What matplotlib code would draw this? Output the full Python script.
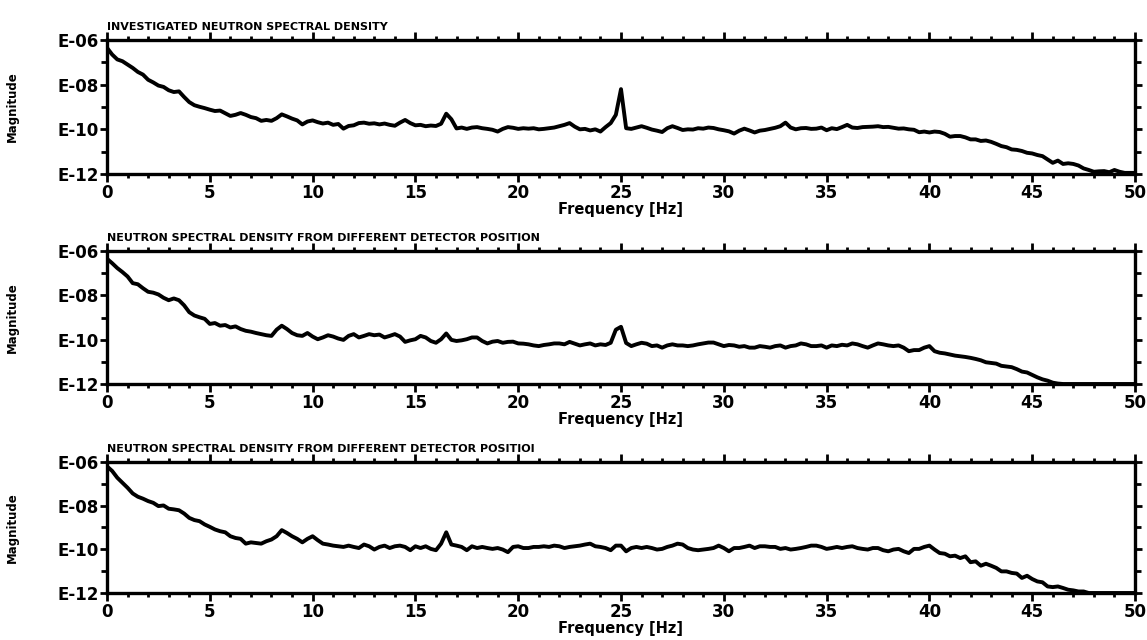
import numpy as np
import matplotlib
matplotlib.use("Agg")
import matplotlib.pyplot as plt
from matplotlib.ticker import FixedLocator, MultipleLocator
from matplotlib import font_manager

# frequency grid (Hz), 0.25 Hz spacing
freq = np.arange(0, 50.001, 0.25)

# log10 magnitude of spectral density (rows = 5 Hz)
s1_log = [
    -6.35, -6.65, -6.87, -6.95, -7.10, -7.25, -7.43, -7.55, -7.78, -7.90, -8.04, -8.10, -8.25, -8.33, -8.30, -8.55, -8.78, -8.92, -8.99, -9.05,
    -9.12, -9.18, -9.16, -9.28, -9.40, -9.35, -9.27, -9.35, -9.45, -9.50, -9.62, -9.58, -9.62, -9.50, -9.33, -9.42, -9.52, -9.60, -9.78, -9.65,
    -9.60, -9.68, -9.74, -9.70, -9.80, -9.76, -9.97, -9.85, -9.82, -9.72, -9.70, -9.75, -9.73, -9.78, -9.74, -9.80, -9.84, -9.70, -9.58, -9.72,
    -9.82, -9.80, -9.86, -9.83, -9.85, -9.75, -9.30, -9.55, -9.96, -9.92, -9.98, -9.92, -9.90, -9.95, -9.98, -10.02, -10.10, -9.98, -9.90, -9.93,
    -9.98, -9.95, -9.97, -9.95, -10.00, -9.98, -9.95, -9.92, -9.86, -9.80, -9.72, -9.88, -10.00, -9.98, -10.05, -10.00, -10.10, -9.90, -9.72, -9.35,
    -8.20, -9.95, -9.98, -9.92, -9.86, -9.93, -10.01, -10.06, -10.12, -9.95, -9.86, -9.94, -10.03, -10.00, -10.01, -9.95, -9.97, -9.92, -9.94, -10.00,
    -10.04, -10.09, -10.19, -10.06, -9.97, -10.05, -10.14, -10.06, -10.03, -9.98, -9.93, -9.86, -9.70, -9.92, -10.00, -9.95, -9.94, -9.98, -9.97, -9.92,
    -10.04, -9.95, -9.99, -9.90, -9.80, -9.92, -9.94, -9.90, -9.89, -9.88, -9.86, -9.90, -9.89, -9.93, -9.97, -9.96, -10.00, -10.02, -10.13, -10.10,
    -10.14, -10.10, -10.12, -10.20, -10.33, -10.30, -10.30, -10.36, -10.45, -10.45, -10.52, -10.50, -10.56, -10.65, -10.75, -10.80, -10.90, -10.92, -10.97, -11.05,
    -11.08, -11.15, -11.20, -11.35, -11.50, -11.40, -11.55, -11.52, -11.55, -11.62, -11.75, -11.82, -11.90, -11.88, -11.87, -11.92, -11.82, -11.90, -11.95, -11.95,
    -11.95,
]

s2_log = [
    -6.35, -6.55, -6.77, -6.95, -7.15, -7.45, -7.50, -7.68, -7.84, -7.88, -7.96, -8.11, -8.22, -8.14, -8.22, -8.45, -8.76, -8.91, -8.99, -9.06,
    -9.29, -9.25, -9.37, -9.34, -9.45, -9.40, -9.52, -9.60, -9.64, -9.70, -9.75, -9.80, -9.83, -9.55, -9.37, -9.52, -9.70, -9.80, -9.83, -9.70,
    -9.86, -9.98, -9.90, -9.80, -9.86, -9.95, -10.01, -9.83, -9.75, -9.90, -9.83, -9.75, -9.80, -9.77, -9.90, -9.83, -9.75, -9.86, -10.10, -10.03,
    -9.98, -9.83, -9.90, -10.06, -10.14, -9.98, -9.72, -10.01, -10.06, -10.03, -9.98, -9.90, -9.90, -10.06, -10.17, -10.09, -10.06, -10.14, -10.10, -10.09,
    -10.17, -10.18, -10.21, -10.26, -10.29, -10.24, -10.21, -10.17, -10.17, -10.21, -10.10, -10.18, -10.26, -10.21, -10.17, -10.26, -10.21, -10.24, -10.14, -9.55,
    -9.42, -10.15, -10.29, -10.21, -10.14, -10.18, -10.29, -10.26, -10.36, -10.26, -10.21, -10.26, -10.26, -10.29, -10.26, -10.21, -10.17, -10.13, -10.13, -10.21,
    -10.29, -10.24, -10.26, -10.32, -10.29, -10.36, -10.36, -10.29, -10.32, -10.36, -10.29, -10.26, -10.36, -10.29, -10.26, -10.17, -10.21, -10.29, -10.29, -10.26,
    -10.36, -10.26, -10.29, -10.23, -10.26, -10.17, -10.21, -10.29, -10.36, -10.26, -10.17, -10.21, -10.26, -10.29, -10.26, -10.36, -10.52, -10.47, -10.47, -10.36,
    -10.29, -10.52, -10.59, -10.62, -10.67, -10.72, -10.75, -10.78, -10.82, -10.87, -10.93, -11.02, -11.05, -11.08, -11.18, -11.21, -11.24, -11.33, -11.44, -11.48,
    -11.59, -11.70, -11.79, -11.85, -11.94, -11.98, -12.00, -12.00, -12.00, -12.00, -12.00, -12.00, -12.00, -12.00, -12.00, -12.00, -12.00, -12.00, -12.00, -12.00,
    -12.00,
]

s3_log = [
    -6.20, -6.41, -6.72, -6.95, -7.18, -7.44, -7.59, -7.68, -7.79, -7.87, -8.02, -7.99, -8.14, -8.17, -8.21, -8.36, -8.56, -8.66, -8.71, -8.86,
    -8.97, -9.09, -9.17, -9.22, -9.40, -9.48, -9.52, -9.74, -9.68, -9.71, -9.74, -9.63, -9.55, -9.40, -9.12, -9.25, -9.40, -9.52, -9.68, -9.52,
    -9.40, -9.58, -9.74, -9.78, -9.83, -9.86, -9.89, -9.83, -9.89, -9.94, -9.78, -9.86, -10.01, -9.89, -9.83, -9.94, -9.86, -9.83, -9.89, -10.04,
    -9.86, -9.94, -9.86, -9.98, -10.04, -9.74, -9.22, -9.78, -9.83, -9.89, -10.04, -9.86, -9.94, -9.89, -9.94, -9.98, -9.94, -10.01, -10.13, -9.89,
    -9.86, -9.94, -9.94, -9.89, -9.89, -9.86, -9.89, -9.83, -9.86, -9.94, -9.89, -9.86, -9.83, -9.78, -9.74, -9.86, -9.89, -9.94, -10.04, -9.83,
    -9.83, -10.09, -9.94, -9.89, -9.94, -9.89, -9.94, -10.01, -9.98, -9.89, -9.83, -9.74, -9.78, -9.94, -10.01, -10.04, -10.01, -9.98, -9.94, -9.83,
    -9.94, -10.09, -9.94, -9.94, -9.89, -9.83, -9.94, -9.86, -9.86, -9.89, -9.89, -9.98, -9.94, -10.01, -9.98, -9.94, -9.89, -9.83, -9.83, -9.89,
    -9.98, -9.94, -9.89, -9.94, -9.89, -9.86, -9.94, -9.98, -10.01, -9.94, -9.94, -10.04, -10.09, -10.01, -9.98, -10.09, -10.17, -9.98, -9.98, -9.89,
    -9.83, -10.01, -10.17, -10.20, -10.32, -10.29, -10.40, -10.32, -10.59, -10.55, -10.75, -10.66, -10.75, -10.85, -11.01, -11.01, -11.08, -11.11, -11.31, -11.21,
    -11.36, -11.47, -11.51, -11.70, -11.73, -11.70, -11.77, -11.85, -11.88, -11.93, -11.93, -12.00, -12.00, -12.00, -12.00, -12.00, -12.00, -12.00, -12.00, -12.00,
    -12.00,
]

titles = [
    "INVESTIGATED NEUTRON SPECTRAL DENSITY",
    "NEUTRON SPECTRAL DENSITY FROM DIFFERENT DETECTOR POSITION",
    "NEUTRON SPECTRAL DENSITY FROM DIFFERENT DETECTOR POSITIOI",
]
x_ticks = [0, 5, 10, 15, 20, 25, 30, 35, 40, 45, 50]
y_ticks = [1e-6, 1e-8, 1e-10, 1e-12]
y_tick_labels = ["E-06", "E-08", "E-10", "E-12"]
x_label = "Frequency [Hz]"
y_label = "Magnitude"

series = [s1_log, s2_log, s3_log]

installed = {f.name for f in font_manager.fontManager.ttflist}
title_family = "Liberation Sans Narrow" if "Liberation Sans Narrow" in installed else "DejaVu Sans"
title_size = 10.5 if title_family == "Liberation Sans Narrow" else 8.0

fig = plt.figure(figsize=(11.47, 6.40), dpi=100)

# pixel boxes: (top, bottom)
boxes = [(40, 174), (251, 384), (462, 593)]
left_px, right_px = 107, 1135

font = dict(family="DejaVu Sans", weight="bold")

for i, (vals, ttl, (top, bot)) in enumerate(zip(series, titles, boxes)):
    ax = fig.add_axes([left_px / 1147, 1 - bot / 640, (right_px - left_px) / 1147, (bot - top) / 640])
    mag = 10.0 ** np.asarray(vals)
    ax.plot(freq, mag, color="black", lw=2.8, solid_joinstyle="round")
    ax.set_yscale("log")
    ax.set_xlim(0, 50)
    ax.set_ylim(1e-12, 1e-6)
    ax.set_xticks(x_ticks)
    ax.set_xticklabels([str(t) for t in x_ticks], fontsize=12, **font)
    ax.xaxis.set_minor_locator(MultipleLocator(1))
    ax.set_yticks(y_ticks)
    ax.set_yticklabels(y_tick_labels, fontsize=12, **font)
    ax.yaxis.set_minor_locator(FixedLocator([1e-7, 1e-9, 1e-11]))
    ax.yaxis.set_minor_formatter(plt.NullFormatter())
    ax.tick_params(axis="both", which="both", direction="out", width=2, color="black",
                   top=True, right=True, labeltop=False, labelright=False)
    ax.tick_params(axis="x", which="major", length=6, pad=1)
    ax.tick_params(axis="x", which="minor", length=3)
    ax.tick_params(axis="y", which="major", length=5, pad=1)
    ax.tick_params(axis="y", which="minor", length=4)
    for sp in ax.spines.values():
        sp.set_linewidth(2.4)
    ax.set_title(ttl, loc="left", fontsize=title_size, pad=7,
                 family=title_family, weight="bold")
    ax.set_xlabel(x_label, fontsize=10.5, labelpad=0, **font)
    ax.set_ylabel(y_label, fontsize=8.5, labelpad=28, **font)

fig.savefig("out.png", dpi=100)
